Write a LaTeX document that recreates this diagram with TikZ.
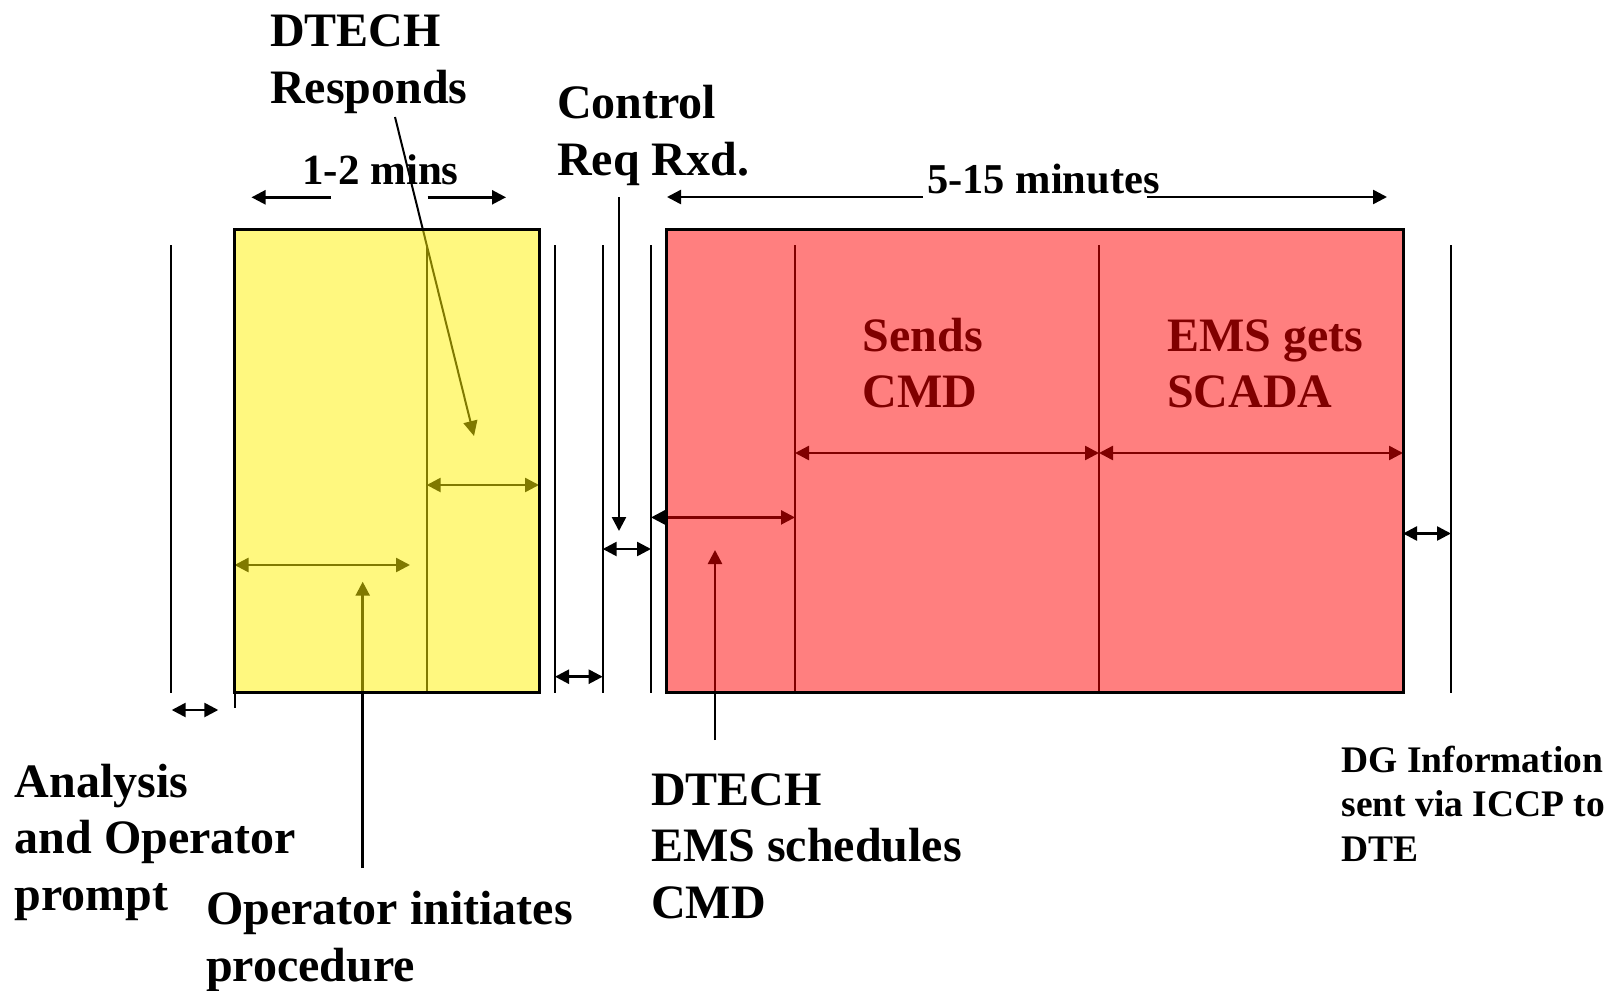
\documentclass[tikz,border=0pt]{standalone}
\usepackage{fontspec}
\setmainfont{Liberation Serif}
\usetikzlibrary{arrows.meta}
\begin{document}
\begin{tikzpicture}[x=1pt,y=-1pt]
\tikzset{
  bigtxt/.style={anchor=base west, inner sep=0pt, font=\fontsize{48}{56.5}\selectfont\bfseries},
  midtxt/.style={anchor=base west, inner sep=0pt, font=\fontsize{43}{50}\selectfont\bfseries},
  smalltxt/.style={anchor=base west, inner sep=0pt, font=\fontsize{37.5}{44.5}\selectfont\bfseries},
  vline/.style={line width=2pt},
  dimarrow/.style={line width=2.5pt, {Triangle[length=14pt,width=14pt]}-{Triangle[length=14pt,width=14pt]}},
  ptr/.style={line width=2.5pt, -{Triangle[length=14pt,width=14pt]}},
  panel/.style={line width=3pt},
}
\useasboundingbox (0,0) rectangle (1618,991);

% ---------- labels ----------
\node[bigtxt] (resp) at (270,46.5) {\vtop{\hbox{DTECH}\hbox{Responds}}};
\node[bigtxt] (ctrl) at (557,118.5) {\vtop{\hbox{Control}\hbox{Req Rxd.}}};
\node[midtxt] (onetwo) at (302,184) {1-2 mins};
\node[midtxt, font=\fontsize{42.5}{50}\selectfont\bfseries] (fifteen) at (927,193) {5-15 minutes};
\node[bigtxt] (sends) at (862.5,351) {\vtop{\hbox{Sends}\hbox{CMD}}};
\node[bigtxt] (scada) at (1167,351) {\vtop{\hbox{EMS gets}\hbox{SCADA}}};
\node[bigtxt] (analysis) at (14.5,797) {\vtop{\hbox{Analysis}\hbox{and Operator}\hbox{prompt}}};
\node[bigtxt] (opinit) at (206,924.5) {\vtop{\hbox{Operator initiates}\hbox{procedure}}};
\node[bigtxt] (sched) at (651,805) {\vtop{\hbox{DTECH}\hbox{EMS schedules}\hbox{CMD}}};
\node[smalltxt] (dg) at (1341.5,772) {\vtop{\hbox{DG Information}\hbox{sent via ICCP to}\hbox{DTE}}};

% ---------- time-line markers ----------
\coordinate (m0t) at (171,245);   \coordinate (m0b) at (171,692.7);
\coordinate (m1t) at (555,245);   \coordinate (m1b) at (555,692.7);
\coordinate (m2t) at (602.7,245); \coordinate (m2b) at (602.7,692.7);
\coordinate (m3t) at (651,245);   \coordinate (m3b) at (651,692.7);
\coordinate (m4t) at (1451,245);  \coordinate (m4b) at (1451,692.7);
\coordinate (yst) at (426.7,245); \coordinate (ysb) at (426.7,692.7);
\coordinate (rs1t) at (795,245);  \coordinate (rs1b) at (795,692.8);
\coordinate (rs2t) at (1099,245); \coordinate (rs2b) at (1099,692.8);
\coordinate (yedge) at (234.5,692.7); \coordinate (yedgeb) at (234.5,708);
\foreach \a/\b in {m0t/m0b,m1t/m1b,m2t/m2b,m3t/m3b,m4t/m4b,yst/ysb,rs1t/rs1b,rs2t/rs2b,yedge/yedgeb}
  \draw[vline] (\a) -- (\b);

% ---------- interval arrows ----------
\coordinate (a1l) at (171.7,710);  \coordinate (a1r) at (218.3,710);
\coordinate (a2l) at (555,676.7);  \coordinate (a2r) at (602.7,676.7);
\coordinate (a3l) at (602.7,549);  \coordinate (a3r) at (651,549);
\coordinate (a4l) at (1403,533.5); \coordinate (a4r) at (1451,533.5);
\coordinate (y1l) at (234.5,565);  \coordinate (y1r) at (410,565);
\coordinate (y2l) at (426.7,485);  \coordinate (y2r) at (539,485);
\coordinate (r1l) at (651,517.4);  \coordinate (r1r) at (795,517.4);
\coordinate (r2l) at (795,453);    \coordinate (r2r) at (1099,453);
\coordinate (r3l) at (1099,453);   \coordinate (r3r) at (1403,453);
\foreach \a/\b in {a1l/a1r,a2l/a2r,a3l/a3r,a4l/a4r,y1l/y1r,y2l/y2r,r1l/r1r,r2l/r2r,r3l/r3r}
  \draw[dimarrow] (\a) -- (\b);

% ---------- duration arrows ----------
\coordinate (d1a) at (330.5,197.3); \coordinate (d1b) at (251.5,197.3);
\coordinate (d2a) at (427.5,197.3); \coordinate (d2b) at (506,197.3);
\coordinate (d3a) at (923,197);     \coordinate (d3b) at (667,197);
\coordinate (d4a) at (1147,197);    \coordinate (d4b) at (1387,197);
\foreach \a/\b in {d1a/d1b,d2a/d2b,d3a/d3b,d4a/d4b}
  \draw[ptr] (\a) -- (\b);

% ---------- label pointers ----------
\coordinate (respfrom) at (395,117);  \coordinate (respto) at (474,436);
\coordinate (ctrlfrom) at (619,197);  \coordinate (ctrlto) at (619,531);
\coordinate (opfrom) at (362.7,868);  \coordinate (opto) at (362.7,581.7);
\coordinate (schfrom) at (715,740);   \coordinate (schto) at (715,550);
\draw[line width=2pt, -{Triangle[length=15pt,width=14pt]}] (respfrom) -- (respto);
\draw[ptr] (ctrlfrom) -- (ctrlto);
\draw[ptr] (opfrom) -- (opto);
\draw[ptr] (schfrom) -- (schto);

% ---------- translucent phase panels ----------
\coordinate (ytl) at (234.5,229); \coordinate (ybr) at (539,692.7);
\coordinate (rtl) at (666.7,229); \coordinate (rbr) at (1403,692.8);
\fill[yellow, opacity=0.5] (ytl) rectangle (ybr);
\fill[red, opacity=0.5] (rtl) rectangle (rbr);
\draw[panel] (ytl) rectangle (ybr);
\draw[panel] (rtl) rectangle (rbr);
\end{tikzpicture}
\end{document}
